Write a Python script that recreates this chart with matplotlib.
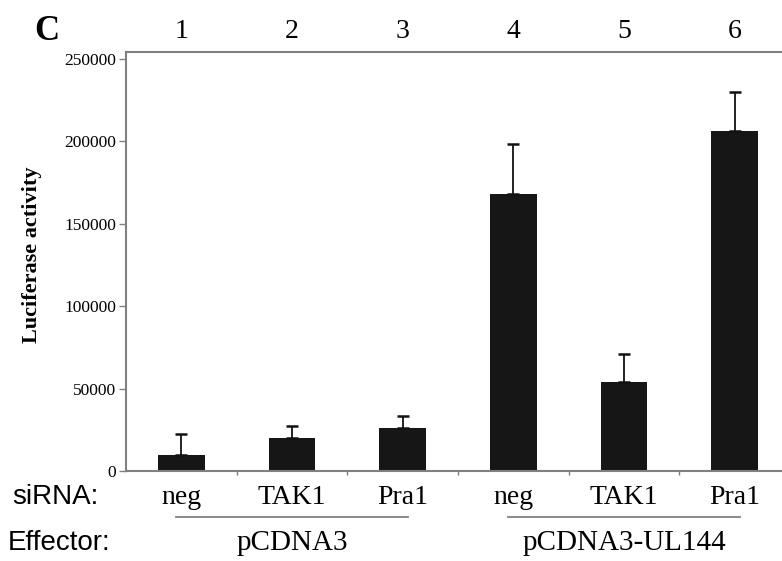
import matplotlib
matplotlib.use("Agg")
import matplotlib.pyplot as plt
import matplotlib.transforms as mtransforms

# data
LANES = ["1", "2", "3", "4", "5", "6"]
SIRNA = ["neg", "TAK1", "Pra1", "neg", "TAK1", "Pra1"]
EFFECTOR = ["pCDNA3", "pCDNA3-UL144"]
ACTIVITY = [10000, 20000, 26000, 168000, 54000, 206000]
ERR_UP = [12500, 7000, 7500, 30000, 17000, 24000]
YTICKS = [0, 50000, 100000, 150000, 200000, 250000]

SERIF = "Liberation Serif"
SANS = "Liberation Sans"
GRAY = "#808080"
BAR = "#161616"

W, H = 782, 561
fig = plt.figure(figsize=(W / 100, H / 100), dpi=100)
# axes box in pixels: left 126, bottom 471, top 52, right runs off the image
ax = fig.add_axes([126 / W, (H - 471) / H, 664 / W, 419 / H])

x = list(range(len(ACTIVITY)))
ax.bar(x, ACTIVITY, width=0.42, color=BAR, zorder=2)
ax.errorbar(x, ACTIVITY, yerr=[[0] * len(ERR_UP), ERR_UP], fmt="none",
            ecolor="#111111", elinewidth=1.3, capsize=4, capthick=1.8, zorder=3)

ax.set_xlim(-0.5, len(x) - 0.5)
ax.set_ylim(0, 254000)

for s in ["left", "top", "bottom"]:
    ax.spines[s].set_color(GRAY)
    ax.spines[s].set_linewidth(1.5)
ax.spines["right"].set_visible(False)

ax.set_yticks(YTICKS)
ax.set_yticklabels([str(v) for v in YTICKS], family=SERIF, fontsize=12.5)
ax.tick_params(axis="y", direction="out", length=5, width=1, color=GRAY, pad=2)
ax.set_xticks([i + 0.5 for i in range(len(x) - 1)])
ax.set_xticklabels([])
ax.tick_params(axis="x", direction="out", length=3, width=1, color=GRAY)

ax.set_ylabel("Luciferase activity", family=SERIF, fontweight="bold",
              fontsize=16)
ax.yaxis.set_label_coords(-84 / 664, 0.515)

# lane numbers on top and siRNA names below
tr = mtransforms.blended_transform_factory(ax.transData, fig.transFigure)
for i in x:
    ax.text(i, 1 - 31 / H, LANES[i], transform=tr, family=SERIF, fontsize=20,
            ha="center", va="center")
    ax.text(i, 1 - 498 / H, SIRNA[i], transform=tr, family=SERIF,
            fontsize=20, ha="center", va="center")

# gray group underlines and effector names
for g, (a, b) in enumerate([(0, 2), (3, 5)]):
    ax.plot([a - 0.05, b + 0.05], [1 - 517 / H] * 2, transform=tr, color=GRAY,
            lw=1.3, clip_on=False)
    ax.text((a + b) / 2, 1 - 543 / H, EFFECTOR[g], transform=tr, family=SERIF,
            fontsize=21, ha="center", va="center")

fig.text(12 / W, 1 - 497 / H, "siRNA:", family=SANS, fontsize=20,
         ha="left", va="center")
fig.text(8 / W, 1 - 543 / H, "Effector:", family=SANS, fontsize=20,
         ha="left", va="center")
fig.text(47 / W, 1 - 31 / H, "C", family=SERIF, fontweight="bold",
         fontsize=25, ha="center", va="center")

fig.savefig("out.png", dpi=100)
